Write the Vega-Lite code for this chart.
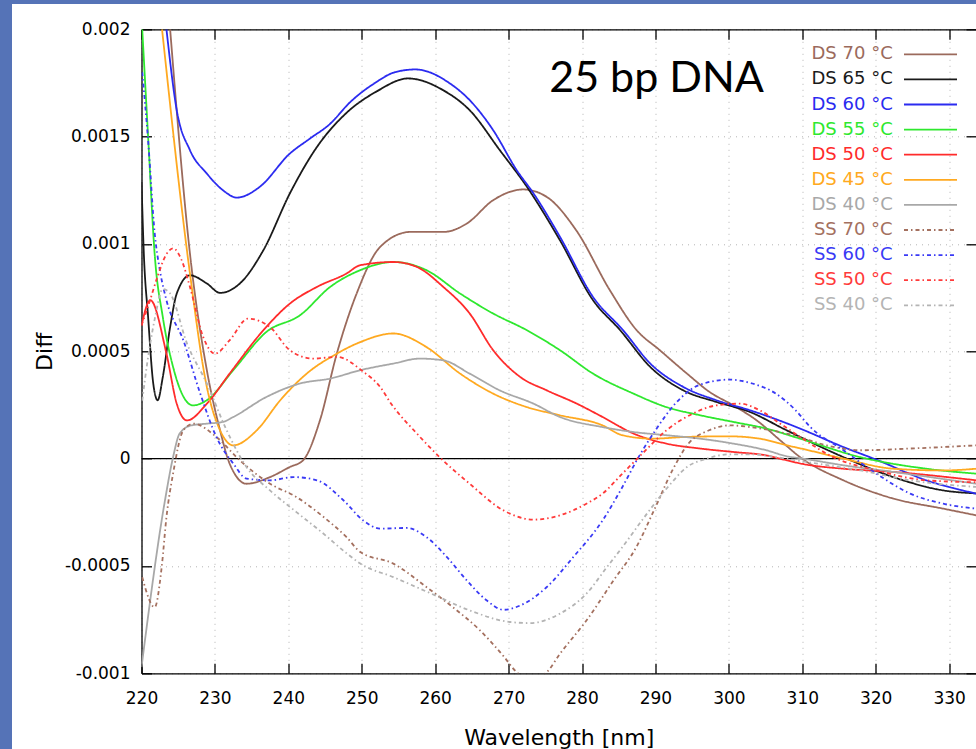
{
  "$schema": "https://vega.github.io/schema/vega-lite/v6.json",
  "width": 834.5,
  "height": 644,
  "autosize": {"type": "none"},
  "padding": {"left": 141.5, "top": 29.3, "right": 0, "bottom": 75.7},
  "background": "white",
  "config": {
    "font": "DejaVu Sans",
    "view": {"stroke": null}
  },
  "resolve": {"axis": {"x": "independent", "y": "independent"}},
  "layer": [
    {
      "description": "page frame, left strip",
      "data": {"values": [{}]},
      "mark": {"type": "rect", "color": "#5573b7", "clip": false},
      "encoding": {
        "x": {"datum": 200.727, "type": "quantitative", "scale": {"domain": [220, 333.66], "nice": false, "zero": false}, "axis": null},
        "x2": {"datum": 202.362},
        "y": {"datum": 0.0021365, "type": "quantitative", "scale": {"domain": [-0.001, 0.002], "nice": false, "zero": false}, "axis": null},
        "y2": {"datum": -0.0013526}
      }
    },
    {
      "description": "page frame, top strip",
      "data": {"values": [{}]},
      "mark": {"type": "rect", "color": "#5573b7", "clip": false},
      "encoding": {
        "x": {"datum": 200.727, "type": "quantitative", "scale": {"domain": [220, 333.66], "nice": false, "zero": false}, "axis": null},
        "x2": {"datum": 333.66},
        "y": {"datum": 0.0021365, "type": "quantitative", "scale": {"domain": [-0.001, 0.002], "nice": false, "zero": false}, "axis": null},
        "y2": {"datum": 0.0021179}
      }
    },
    {
      "description": "zero line",
      "data": {"values": [{}]},
      "mark": {"type": "rule", "color": "#000000", "strokeWidth": 1.2},
      "encoding": {
        "y": {"datum": 0, "type": "quantitative", "scale": {"domain": [-0.001, 0.002], "nice": false, "zero": false}, "axis": null}
      }
    },
    {
      "data": {
        "values": [
          {"series": "DS 70 °C", "nm": 223.9, "diff": 0.002},
          {"series": "DS 70 °C", "nm": 226.6, "diff": 0.000955},
          {"series": "DS 70 °C", "nm": 228.9, "diff": 0.000412},
          {"series": "DS 70 °C", "nm": 230.7, "diff": 0.000132},
          {"series": "DS 70 °C", "nm": 232.0, "diff": -0.000023},
          {"series": "DS 70 °C", "nm": 234.3, "diff": -0.000117},
          {"series": "DS 70 °C", "nm": 237.5, "diff": -0.000086},
          {"series": "DS 70 °C", "nm": 240.2, "diff": -0.000039},
          {"series": "DS 70 °C", "nm": 242.0, "diff": -0.000008},
          {"series": "DS 70 °C", "nm": 244.3, "diff": 0.000178},
          {"series": "DS 70 °C", "nm": 246.6, "diff": 0.000489},
          {"series": "DS 70 °C", "nm": 249.3, "diff": 0.000769},
          {"series": "DS 70 °C", "nm": 252.5, "diff": 0.000986},
          {"series": "DS 70 °C", "nm": 256.6, "diff": 0.001056},
          {"series": "DS 70 °C", "nm": 261.1, "diff": 0.001056},
          {"series": "DS 70 °C", "nm": 264.3, "diff": 0.001095},
          {"series": "DS 70 °C", "nm": 267.9, "diff": 0.001204},
          {"series": "DS 70 °C", "nm": 272.0, "diff": 0.001254},
          {"series": "DS 70 °C", "nm": 275.2, "diff": 0.001219},
          {"series": "DS 70 °C", "nm": 279.2, "diff": 0.001064},
          {"series": "DS 70 °C", "nm": 283.8, "diff": 0.000784},
          {"series": "DS 70 °C", "nm": 287.4, "diff": 0.0006},
          {"series": "DS 70 °C", "nm": 290.6, "diff": 0.000505},
          {"series": "DS 70 °C", "nm": 294.3, "diff": 0.000396},
          {"series": "DS 70 °C", "nm": 297.4, "diff": 0.00031},
          {"series": "DS 70 °C", "nm": 300.6, "diff": 0.000248},
          {"series": "DS 70 °C", "nm": 303.8, "diff": 0.000178},
          {"series": "DS 70 °C", "nm": 307.0, "diff": 0.000085},
          {"series": "DS 70 °C", "nm": 309.7, "diff": 0.000007},
          {"series": "DS 70 °C", "nm": 315.6, "diff": -0.000101},
          {"series": "DS 70 °C", "nm": 322.4, "diff": -0.000186},
          {"series": "DS 70 °C", "nm": 329.2, "diff": -0.000233},
          {"series": "DS 70 °C", "nm": 333.7, "diff": -0.000264},

          {"series": "DS 65 °C", "nm": 220.0, "diff": 0.00129},
          {"series": "DS 65 °C", "nm": 220.3, "diff": 0.00097},
          {"series": "DS 65 °C", "nm": 220.9, "diff": 0.00066},
          {"series": "DS 65 °C", "nm": 221.6, "diff": 0.00035},
          {"series": "DS 65 °C", "nm": 222.2, "diff": 0.000272},
          {"series": "DS 65 °C", "nm": 222.9, "diff": 0.00038},
          {"series": "DS 65 °C", "nm": 223.9, "diff": 0.000613},
          {"series": "DS 65 °C", "nm": 224.8, "diff": 0.000769},
          {"series": "DS 65 °C", "nm": 226.6, "diff": 0.000854},
          {"series": "DS 65 °C", "nm": 228.9, "diff": 0.000816},
          {"series": "DS 65 °C", "nm": 230.7, "diff": 0.000772},
          {"series": "DS 65 °C", "nm": 233.4, "diff": 0.000816},
          {"series": "DS 65 °C", "nm": 236.6, "diff": 0.000971},
          {"series": "DS 65 °C", "nm": 240.2, "diff": 0.001235},
          {"series": "DS 65 °C", "nm": 243.9, "diff": 0.001452},
          {"series": "DS 65 °C", "nm": 247.9, "diff": 0.00161},
          {"series": "DS 65 °C", "nm": 252.0, "diff": 0.00171},
          {"series": "DS 65 °C", "nm": 256.3, "diff": 0.001771},
          {"series": "DS 65 °C", "nm": 261.1, "diff": 0.001716},
          {"series": "DS 65 °C", "nm": 264.7, "diff": 0.001623},
          {"series": "DS 65 °C", "nm": 268.8, "diff": 0.001437},
          {"series": "DS 65 °C", "nm": 272.5, "diff": 0.001266},
          {"series": "DS 65 °C", "nm": 277.0, "diff": 0.001017},
          {"series": "DS 65 °C", "nm": 281.5, "diff": 0.000738},
          {"series": "DS 65 °C", "nm": 285.2, "diff": 0.000598},
          {"series": "DS 65 °C", "nm": 289.3, "diff": 0.000427},
          {"series": "DS 65 °C", "nm": 293.8, "diff": 0.000318},
          {"series": "DS 65 °C", "nm": 298.3, "diff": 0.000264},
          {"series": "DS 65 °C", "nm": 302.9, "diff": 0.000217},
          {"series": "DS 65 °C", "nm": 307.4, "diff": 0.00014},
          {"series": "DS 65 °C", "nm": 309.7, "diff": 0.000101},
          {"series": "DS 65 °C", "nm": 315.6, "diff": 0.000007},
          {"series": "DS 65 °C", "nm": 322.4, "diff": -0.000086},
          {"series": "DS 65 °C", "nm": 329.2, "diff": -0.000148},
          {"series": "DS 65 °C", "nm": 333.7, "diff": -0.000162},

          {"series": "DS 60 °C", "nm": 223.4, "diff": 0.002},
          {"series": "DS 60 °C", "nm": 224.8, "diff": 0.001623},
          {"series": "DS 60 °C", "nm": 226.6, "diff": 0.001437},
          {"series": "DS 60 °C", "nm": 228.9, "diff": 0.001328},
          {"series": "DS 60 °C", "nm": 231.1, "diff": 0.00125},
          {"series": "DS 60 °C", "nm": 233.0, "diff": 0.001216},
          {"series": "DS 60 °C", "nm": 236.1, "diff": 0.001266},
          {"series": "DS 60 °C", "nm": 240.2, "diff": 0.001421},
          {"series": "DS 60 °C", "nm": 242.9, "diff": 0.00149},
          {"series": "DS 60 °C", "nm": 245.7, "diff": 0.00156},
          {"series": "DS 60 °C", "nm": 248.4, "diff": 0.00166},
          {"series": "DS 60 °C", "nm": 251.8, "diff": 0.00175},
          {"series": "DS 60 °C", "nm": 254.5, "diff": 0.0018},
          {"series": "DS 60 °C", "nm": 257.3, "diff": 0.001813},
          {"series": "DS 60 °C", "nm": 262.0, "diff": 0.001748},
          {"series": "DS 60 °C", "nm": 264.7, "diff": 0.00167},
          {"series": "DS 60 °C", "nm": 267.9, "diff": 0.00153},
          {"series": "DS 60 °C", "nm": 271.1, "diff": 0.001344},
          {"series": "DS 60 °C", "nm": 273.4, "diff": 0.001235},
          {"series": "DS 60 °C", "nm": 277.0, "diff": 0.001033},
          {"series": "DS 60 °C", "nm": 281.5, "diff": 0.000753},
          {"series": "DS 60 °C", "nm": 285.6, "diff": 0.000598},
          {"series": "DS 60 °C", "nm": 289.3, "diff": 0.000443},
          {"series": "DS 60 °C", "nm": 293.8, "diff": 0.000334},
          {"series": "DS 60 °C", "nm": 298.3, "diff": 0.000272},
          {"series": "DS 60 °C", "nm": 302.9, "diff": 0.000225},
          {"series": "DS 60 °C", "nm": 307.4, "diff": 0.000171},
          {"series": "DS 60 °C", "nm": 309.7, "diff": 0.00014},
          {"series": "DS 60 °C", "nm": 315.6, "diff": 0.000054},
          {"series": "DS 60 °C", "nm": 320.1, "diff": -0.000005},
          {"series": "DS 60 °C", "nm": 326.9, "diff": -0.000101},
          {"series": "DS 60 °C", "nm": 333.7, "diff": -0.000163},

          {"series": "DS 55 °C", "nm": 220.1, "diff": 0.002},
          {"series": "DS 55 °C", "nm": 220.9, "diff": 0.0015},
          {"series": "DS 55 °C", "nm": 221.8, "diff": 0.00095},
          {"series": "DS 55 °C", "nm": 222.9, "diff": 0.00066},
          {"series": "DS 55 °C", "nm": 224.3, "diff": 0.000427},
          {"series": "DS 55 °C", "nm": 227.0, "diff": 0.000248},
          {"series": "DS 55 °C", "nm": 228.9, "diff": 0.000272},
          {"series": "DS 55 °C", "nm": 232.5, "diff": 0.000412},
          {"series": "DS 55 °C", "nm": 237.0, "diff": 0.00059},
          {"series": "DS 55 °C", "nm": 241.6, "diff": 0.000668},
          {"series": "DS 55 °C", "nm": 245.7, "diff": 0.0008},
          {"series": "DS 55 °C", "nm": 249.8, "diff": 0.000878},
          {"series": "DS 55 °C", "nm": 254.3, "diff": 0.000916},
          {"series": "DS 55 °C", "nm": 258.8, "diff": 0.000878},
          {"series": "DS 55 °C", "nm": 263.4, "diff": 0.000769},
          {"series": "DS 55 °C", "nm": 267.9, "diff": 0.000676},
          {"series": "DS 55 °C", "nm": 272.5, "diff": 0.000598},
          {"series": "DS 55 °C", "nm": 277.0, "diff": 0.000505},
          {"series": "DS 55 °C", "nm": 281.5, "diff": 0.000396},
          {"series": "DS 55 °C", "nm": 287.0, "diff": 0.000303},
          {"series": "DS 55 °C", "nm": 291.5, "diff": 0.00024},
          {"series": "DS 55 °C", "nm": 296.1, "diff": 0.000202},
          {"series": "DS 55 °C", "nm": 300.6, "diff": 0.000171},
          {"series": "DS 55 °C", "nm": 305.1, "diff": 0.00014},
          {"series": "DS 55 °C", "nm": 309.7, "diff": 0.000093},
          {"series": "DS 55 °C", "nm": 317.9, "diff": 0.000007},
          {"series": "DS 55 °C", "nm": 326.9, "diff": -0.000047},
          {"series": "DS 55 °C", "nm": 333.7, "diff": -0.00007},

          {"series": "DS 50 °C", "nm": 220.0, "diff": 0.00062},
          {"series": "DS 50 °C", "nm": 221.2, "diff": 0.000738},
          {"series": "DS 50 °C", "nm": 223.4, "diff": 0.000489},
          {"series": "DS 50 °C", "nm": 224.8, "diff": 0.000256},
          {"series": "DS 50 °C", "nm": 226.2, "diff": 0.000178},
          {"series": "DS 50 °C", "nm": 228.9, "diff": 0.000256},
          {"series": "DS 50 °C", "nm": 232.0, "diff": 0.000396},
          {"series": "DS 50 °C", "nm": 236.6, "diff": 0.000598},
          {"series": "DS 50 °C", "nm": 240.2, "diff": 0.000722},
          {"series": "DS 50 °C", "nm": 243.9, "diff": 0.0008},
          {"series": "DS 50 °C", "nm": 247.9, "diff": 0.000862},
          {"series": "DS 50 °C", "nm": 249.8, "diff": 0.000901},
          {"series": "DS 50 °C", "nm": 254.3, "diff": 0.000916},
          {"series": "DS 50 °C", "nm": 257.5, "diff": 0.000893},
          {"series": "DS 50 °C", "nm": 261.1, "diff": 0.0008},
          {"series": "DS 50 °C", "nm": 264.7, "diff": 0.000676},
          {"series": "DS 50 °C", "nm": 267.9, "diff": 0.000505},
          {"series": "DS 50 °C", "nm": 271.6, "diff": 0.00038},
          {"series": "DS 50 °C", "nm": 275.2, "diff": 0.000318},
          {"series": "DS 50 °C", "nm": 279.3, "diff": 0.000256},
          {"series": "DS 50 °C", "nm": 282.8, "diff": 0.000194},
          {"series": "DS 50 °C", "nm": 287.0, "diff": 0.000117},
          {"series": "DS 50 °C", "nm": 291.5, "diff": 0.00007},
          {"series": "DS 50 °C", "nm": 296.1, "diff": 0.000047},
          {"series": "DS 50 °C", "nm": 300.6, "diff": 0.000031},
          {"series": "DS 50 °C", "nm": 305.1, "diff": 0.000015},
          {"series": "DS 50 °C", "nm": 307.9, "diff": -0.000008},
          {"series": "DS 50 °C", "nm": 310.1, "diff": -0.000025},
          {"series": "DS 50 °C", "nm": 315.6, "diff": -0.000047},
          {"series": "DS 50 °C", "nm": 322.4, "diff": -0.000062},
          {"series": "DS 50 °C", "nm": 333.7, "diff": -0.000101},

          {"series": "DS 45 °C", "nm": 222.8, "diff": 0.002},
          {"series": "DS 45 °C", "nm": 226.6, "diff": 0.000862},
          {"series": "DS 45 °C", "nm": 228.9, "diff": 0.000334},
          {"series": "DS 45 °C", "nm": 230.7, "diff": 0.000132},
          {"series": "DS 45 °C", "nm": 232.5, "diff": 0.000062},
          {"series": "DS 45 °C", "nm": 235.7, "diff": 0.000132},
          {"series": "DS 45 °C", "nm": 238.9, "diff": 0.000272},
          {"series": "DS 45 °C", "nm": 242.5, "diff": 0.000396},
          {"series": "DS 45 °C", "nm": 246.6, "diff": 0.000489},
          {"series": "DS 45 °C", "nm": 249.8, "diff": 0.000543},
          {"series": "DS 45 °C", "nm": 254.3, "diff": 0.000583},
          {"series": "DS 45 °C", "nm": 258.8, "diff": 0.00052},
          {"series": "DS 45 °C", "nm": 263.4, "diff": 0.000396},
          {"series": "DS 45 °C", "nm": 267.9, "diff": 0.000303},
          {"series": "DS 45 °C", "nm": 272.5, "diff": 0.00024},
          {"series": "DS 45 °C", "nm": 277.0, "diff": 0.000202},
          {"series": "DS 45 °C", "nm": 282.8, "diff": 0.000155},
          {"series": "DS 45 °C", "nm": 285.5, "diff": 0.000109},
          {"series": "DS 45 °C", "nm": 289.6, "diff": 0.000093},
          {"series": "DS 45 °C", "nm": 294.1, "diff": 0.000101},
          {"series": "DS 45 °C", "nm": 300.0, "diff": 0.000104},
          {"series": "DS 45 °C", "nm": 304.2, "diff": 0.000093},
          {"series": "DS 45 °C", "nm": 307.9, "diff": 0.000062},
          {"series": "DS 45 °C", "nm": 310.1, "diff": 0.000045},
          {"series": "DS 45 °C", "nm": 315.6, "diff": 0.0},
          {"series": "DS 45 °C", "nm": 322.4, "diff": -0.000047},
          {"series": "DS 45 °C", "nm": 329.2, "diff": -0.000055},
          {"series": "DS 45 °C", "nm": 333.7, "diff": -0.000047},

          {"series": "DS 40 °C", "nm": 220.0, "diff": -0.000971},
          {"series": "DS 40 °C", "nm": 223.2, "diff": -0.000194},
          {"series": "DS 40 °C", "nm": 224.3, "diff": 0.000007},
          {"series": "DS 40 °C", "nm": 225.2, "diff": 0.000117},
          {"series": "DS 40 °C", "nm": 226.8, "diff": 0.000155},
          {"series": "DS 40 °C", "nm": 228.9, "diff": 0.000163},
          {"series": "DS 40 °C", "nm": 231.1, "diff": 0.000171},
          {"series": "DS 40 °C", "nm": 232.5, "diff": 0.000194},
          {"series": "DS 40 °C", "nm": 237.0, "diff": 0.000287},
          {"series": "DS 40 °C", "nm": 241.6, "diff": 0.00035},
          {"series": "DS 40 °C", "nm": 245.7, "diff": 0.000373},
          {"series": "DS 40 °C", "nm": 249.8, "diff": 0.000412},
          {"series": "DS 40 °C", "nm": 254.3, "diff": 0.000443},
          {"series": "DS 40 °C", "nm": 257.9, "diff": 0.000466},
          {"series": "DS 40 °C", "nm": 261.1, "diff": 0.000458},
          {"series": "DS 40 °C", "nm": 264.7, "diff": 0.000396},
          {"series": "DS 40 °C", "nm": 268.8, "diff": 0.000318},
          {"series": "DS 40 °C", "nm": 273.4, "diff": 0.000256},
          {"series": "DS 40 °C", "nm": 277.0, "diff": 0.000194},
          {"series": "DS 40 °C", "nm": 282.8, "diff": 0.000147},
          {"series": "DS 40 °C", "nm": 287.0, "diff": 0.000124},
          {"series": "DS 40 °C", "nm": 291.5, "diff": 0.000109},
          {"series": "DS 40 °C", "nm": 296.1, "diff": 0.000093},
          {"series": "DS 40 °C", "nm": 300.6, "diff": 0.00007},
          {"series": "DS 40 °C", "nm": 305.1, "diff": 0.000039},
          {"series": "DS 40 °C", "nm": 307.9, "diff": 0.000011},
          {"series": "DS 40 °C", "nm": 310.1, "diff": 0.0},
          {"series": "DS 40 °C", "nm": 315.6, "diff": -0.000031},
          {"series": "DS 40 °C", "nm": 322.4, "diff": -0.000062},
          {"series": "DS 40 °C", "nm": 333.7, "diff": -0.000117},

          {"series": "SS 70 °C", "nm": 220.1, "diff": -0.000552},
          {"series": "SS 70 °C", "nm": 221.8, "diff": -0.000692},
          {"series": "SS 70 °C", "nm": 222.75, "diff": -0.000505},
          {"series": "SS 70 °C", "nm": 223.4, "diff": -0.000272},
          {"series": "SS 70 °C", "nm": 224.3, "diff": -0.00007},
          {"series": "SS 70 °C", "nm": 225.7, "diff": 0.000132},
          {"series": "SS 70 °C", "nm": 227.1, "diff": 0.000163},
          {"series": "SS 70 °C", "nm": 230.2, "diff": 0.000101},
          {"series": "SS 70 °C", "nm": 233.4, "diff": -0.000008},
          {"series": "SS 70 °C", "nm": 237.5, "diff": -0.000117},
          {"series": "SS 70 °C", "nm": 241.1, "diff": -0.000179},
          {"series": "SS 70 °C", "nm": 244.8, "diff": -0.000272},
          {"series": "SS 70 °C", "nm": 247.9, "diff": -0.000365},
          {"series": "SS 70 °C", "nm": 249.8, "diff": -0.000435},
          {"series": "SS 70 °C", "nm": 254.3, "diff": -0.000489},
          {"series": "SS 70 °C", "nm": 258.8, "diff": -0.000598},
          {"series": "SS 70 °C", "nm": 262.4, "diff": -0.000692},
          {"series": "SS 70 °C", "nm": 266.1, "diff": -0.0008},
          {"series": "SS 70 °C", "nm": 269.3, "diff": -0.00092},
          {"series": "SS 70 °C", "nm": 271.1, "diff": -0.000995},
          {"series": "SS 70 °C", "nm": 273.2, "diff": -0.00103},
          {"series": "SS 70 °C", "nm": 275.2, "diff": -0.000995},
          {"series": "SS 70 °C", "nm": 277.0, "diff": -0.000909},
          {"series": "SS 70 °C", "nm": 280.6, "diff": -0.000754},
          {"series": "SS 70 °C", "nm": 284.3, "diff": -0.000567},
          {"series": "SS 70 °C", "nm": 287.4, "diff": -0.000412},
          {"series": "SS 70 °C", "nm": 290.0, "diff": -0.000226},
          {"series": "SS 70 °C", "nm": 292.3, "diff": -0.000055},
          {"series": "SS 70 °C", "nm": 294.5, "diff": 0.00007},
          {"series": "SS 70 °C", "nm": 297.3, "diff": 0.000132},
          {"series": "SS 70 °C", "nm": 300.2, "diff": 0.000155},
          {"series": "SS 70 °C", "nm": 302.9, "diff": 0.000147},
          {"series": "SS 70 °C", "nm": 308.8, "diff": 0.000109},
          {"series": "SS 70 °C", "nm": 313.3, "diff": 0.000062},
          {"series": "SS 70 °C", "nm": 317.9, "diff": 0.000039},
          {"series": "SS 70 °C", "nm": 324.7, "diff": 0.000047},
          {"series": "SS 70 °C", "nm": 333.7, "diff": 0.000062},

          {"series": "SS 60 °C", "nm": 220.1, "diff": 0.0018},
          {"series": "SS 60 °C", "nm": 220.9, "diff": 0.001483},
          {"series": "SS 60 °C", "nm": 221.8, "diff": 0.001049},
          {"series": "SS 60 °C", "nm": 222.5, "diff": 0.000878},
          {"series": "SS 60 °C", "nm": 223.4, "diff": 0.000738},
          {"series": "SS 60 °C", "nm": 225.7, "diff": 0.000551},
          {"series": "SS 60 °C", "nm": 228.0, "diff": 0.000303},
          {"series": "SS 60 °C", "nm": 230.2, "diff": 0.000101},
          {"series": "SS 60 °C", "nm": 232.5, "diff": -0.000023},
          {"series": "SS 60 °C", "nm": 234.3, "diff": -0.000093},
          {"series": "SS 60 °C", "nm": 237.5, "diff": -0.000101},
          {"series": "SS 60 °C", "nm": 240.7, "diff": -0.000086},
          {"series": "SS 60 °C", "nm": 243.9, "diff": -0.000101},
          {"series": "SS 60 °C", "nm": 247.5, "diff": -0.000194},
          {"series": "SS 60 °C", "nm": 250.2, "diff": -0.000288},
          {"series": "SS 60 °C", "nm": 252.5, "diff": -0.000326},
          {"series": "SS 60 °C", "nm": 256.1, "diff": -0.000323},
          {"series": "SS 60 °C", "nm": 258.8, "diff": -0.000365},
          {"series": "SS 60 °C", "nm": 261.6, "diff": -0.000459},
          {"series": "SS 60 °C", "nm": 264.3, "diff": -0.000567},
          {"series": "SS 60 °C", "nm": 267.0, "diff": -0.00066},
          {"series": "SS 60 °C", "nm": 269.3, "diff": -0.000704},
          {"series": "SS 60 °C", "nm": 271.6, "diff": -0.000684},
          {"series": "SS 60 °C", "nm": 275.2, "diff": -0.000598},
          {"series": "SS 60 °C", "nm": 278.8, "diff": -0.000459},
          {"series": "SS 60 °C", "nm": 282.8, "diff": -0.000288},
          {"series": "SS 60 °C", "nm": 285.5, "diff": -0.000132},
          {"series": "SS 60 °C", "nm": 287.7, "diff": 0.000007},
          {"series": "SS 60 °C", "nm": 290.0, "diff": 0.000132},
          {"series": "SS 60 °C", "nm": 292.7, "diff": 0.000256},
          {"series": "SS 60 °C", "nm": 295.9, "diff": 0.000342},
          {"series": "SS 60 °C", "nm": 300.0, "diff": 0.000368},
          {"series": "SS 60 °C", "nm": 303.2, "diff": 0.00035},
          {"series": "SS 60 °C", "nm": 306.4, "diff": 0.000303},
          {"series": "SS 60 °C", "nm": 309.1, "diff": 0.000225},
          {"series": "SS 60 °C", "nm": 311.1, "diff": 0.000147},
          {"series": "SS 60 °C", "nm": 315.6, "diff": 0.000039},
          {"series": "SS 60 °C", "nm": 320.1, "diff": -0.00007},
          {"series": "SS 60 °C", "nm": 324.7, "diff": -0.000163},
          {"series": "SS 60 °C", "nm": 329.2, "diff": -0.00021},
          {"series": "SS 60 °C", "nm": 333.7, "diff": -0.000233},

          {"series": "SS 50 °C", "nm": 220.0, "diff": 0.00062},
          {"series": "SS 50 °C", "nm": 221.0, "diff": 0.00072},
          {"series": "SS 50 °C", "nm": 222.2, "diff": 0.00085},
          {"series": "SS 50 °C", "nm": 223.2, "diff": 0.00094},
          {"series": "SS 50 °C", "nm": 224.3, "diff": 0.00098},
          {"series": "SS 50 °C", "nm": 225.4, "diff": 0.00093},
          {"series": "SS 50 °C", "nm": 226.6, "diff": 0.0008},
          {"series": "SS 50 °C", "nm": 228.4, "diff": 0.000567},
          {"series": "SS 50 °C", "nm": 230.0, "diff": 0.000489},
          {"series": "SS 50 °C", "nm": 232.0, "diff": 0.000551},
          {"series": "SS 50 °C", "nm": 234.5, "diff": 0.000652},
          {"series": "SS 50 °C", "nm": 237.5, "diff": 0.000613},
          {"series": "SS 50 °C", "nm": 240.2, "diff": 0.000505},
          {"series": "SS 50 °C", "nm": 243.4, "diff": 0.000466},
          {"series": "SS 50 °C", "nm": 246.6, "diff": 0.000474},
          {"series": "SS 50 °C", "nm": 250.2, "diff": 0.000405},
          {"series": "SS 50 °C", "nm": 252.5, "diff": 0.000334},
          {"series": "SS 50 °C", "nm": 254.0, "diff": 0.000256},
          {"series": "SS 50 °C", "nm": 257.5, "diff": 0.000117},
          {"series": "SS 50 °C", "nm": 260.6, "diff": 0.000007},
          {"series": "SS 50 °C", "nm": 264.7, "diff": -0.000117},
          {"series": "SS 50 °C", "nm": 269.3, "diff": -0.000241},
          {"series": "SS 50 °C", "nm": 273.4, "diff": -0.000284},
          {"series": "SS 50 °C", "nm": 277.0, "diff": -0.000264},
          {"series": "SS 50 °C", "nm": 280.6, "diff": -0.00021},
          {"series": "SS 50 °C", "nm": 282.8, "diff": -0.000163},
          {"series": "SS 50 °C", "nm": 285.5, "diff": -0.00007},
          {"series": "SS 50 °C", "nm": 288.2, "diff": 0.000023},
          {"series": "SS 50 °C", "nm": 291.5, "diff": 0.000132},
          {"series": "SS 50 °C", "nm": 295.1, "diff": 0.00021},
          {"series": "SS 50 °C", "nm": 298.3, "diff": 0.000248},
          {"series": "SS 50 °C", "nm": 301.5, "diff": 0.000256},
          {"series": "SS 50 °C", "nm": 304.2, "diff": 0.000225},
          {"series": "SS 50 °C", "nm": 307.0, "diff": 0.000163},
          {"series": "SS 50 °C", "nm": 309.7, "diff": 0.000101},
          {"series": "SS 50 °C", "nm": 314.2, "diff": 0.000007},
          {"series": "SS 50 °C", "nm": 320.1, "diff": -0.000055},
          {"series": "SS 50 °C", "nm": 326.9, "diff": -0.000101},
          {"series": "SS 50 °C", "nm": 333.7, "diff": -0.00011},

          {"series": "SS 40 °C", "nm": 220.1, "diff": 0.00027},
          {"series": "SS 40 °C", "nm": 220.8, "diff": 0.00045},
          {"series": "SS 40 °C", "nm": 221.8, "diff": 0.00065},
          {"series": "SS 40 °C", "nm": 222.9, "diff": 0.00079},
          {"series": "SS 40 °C", "nm": 223.9, "diff": 0.000769},
          {"series": "SS 40 °C", "nm": 226.2, "diff": 0.000536},
          {"series": "SS 40 °C", "nm": 228.9, "diff": 0.00035},
          {"series": "SS 40 °C", "nm": 231.6, "diff": 0.000132},
          {"series": "SS 40 °C", "nm": 234.3, "diff": -0.000039},
          {"series": "SS 40 °C", "nm": 237.5, "diff": -0.000148},
          {"series": "SS 40 °C", "nm": 241.1, "diff": -0.000249},
          {"series": "SS 40 °C", "nm": 244.8, "diff": -0.00035},
          {"series": "SS 40 °C", "nm": 247.9, "diff": -0.00044},
          {"series": "SS 40 °C", "nm": 249.8, "diff": -0.000489},
          {"series": "SS 40 °C", "nm": 254.3, "diff": -0.000552},
          {"series": "SS 40 °C", "nm": 260.0, "diff": -0.000637},
          {"series": "SS 40 °C", "nm": 264.7, "diff": -0.000707},
          {"series": "SS 40 °C", "nm": 270.2, "diff": -0.000761},
          {"series": "SS 40 °C", "nm": 272.9, "diff": -0.000766},
          {"series": "SS 40 °C", "nm": 277.0, "diff": -0.000722},
          {"series": "SS 40 °C", "nm": 280.6, "diff": -0.000629},
          {"series": "SS 40 °C", "nm": 283.4, "diff": -0.000505},
          {"series": "SS 40 °C", "nm": 285.5, "diff": -0.000412},
          {"series": "SS 40 °C", "nm": 288.5, "diff": -0.000272},
          {"series": "SS 40 °C", "nm": 291.7, "diff": -0.000132},
          {"series": "SS 40 °C", "nm": 294.3, "diff": -0.000039},
          {"series": "SS 40 °C", "nm": 297.0, "diff": 0.0},
          {"series": "SS 40 °C", "nm": 300.0, "diff": 0.00002},
          {"series": "SS 40 °C", "nm": 303.2, "diff": 0.00002},
          {"series": "SS 40 °C", "nm": 306.4, "diff": 0.000007},
          {"series": "SS 40 °C", "nm": 310.0, "diff": -0.000012},
          {"series": "SS 40 °C", "nm": 313.3, "diff": -0.00003},
          {"series": "SS 40 °C", "nm": 317.9, "diff": -0.000055},
          {"series": "SS 40 °C", "nm": 324.7, "diff": -0.000101},
          {"series": "SS 40 °C", "nm": 333.7, "diff": -0.000132}
        ]
      },
      "mark": {"type": "line", "interpolate": "monotone", "strokeWidth": 1.8, "clip": true},
      "encoding": {
        "x": {
          "field": "nm", "type": "quantitative",
          "scale": {"domain": [220, 333.66], "nice": false, "zero": false},
          "axis": {
            "orient": "bottom",
            "values": [220, 230, 240, 250, 260, 270, 280, 290, 300, 310, 320, 330],
            "title": "Wavelength [nm]",
            "grid": true, "gridColor": "#b4b4b4", "gridDash": [1, 5], "gridWidth": 1,
            "domain": true, "domainColor": "#000000", "domainWidth": 1.3,
            "ticks": true, "tickSize": -10, "tickColor": "#000000", "tickWidth": 1.3,
            "labelFontSize": 17, "labelColor": "#000000", "labelPadding": 27,
            "labelFlush": false, "labelOverlap": false,
            "titleFontSize": 22, "titleFontWeight": "normal", "titleColor": "#000000",
            "titleY": 71, "titleBaseline": "alphabetic"
          }
        },
        "y": {
          "field": "diff", "type": "quantitative",
          "scale": {"domain": [-0.001, 0.002], "nice": false, "zero": false},
          "axis": {
            "orient": "left",
            "values": [-0.001, -0.0005, 0, 0.0005, 0.001, 0.0015, 0.002],
            "labelExpr": "toString(datum.value)",
            "title": "Diff",
            "grid": true, "gridColor": "#b4b4b4", "gridDash": [1, 5], "gridWidth": 1,
            "domain": true, "domainColor": "#000000", "domainWidth": 1.3,
            "ticks": true, "tickSize": -10, "tickColor": "#000000", "tickWidth": 1.3,
            "labelFontSize": 17, "labelColor": "#000000", "labelPadding": 21.5,
            "labelFlush": false, "labelOverlap": false,
            "titleFontSize": 22, "titleFontWeight": "normal", "titleColor": "#000000",
            "titleAngle": -90, "titleX": -90, "titleY": 322,
            "titleAlign": "center", "titleBaseline": "alphabetic"
          }
        },
        "color": {
          "field": "series", "type": "nominal",
          "scale": {
            "domain": ["DS 70 °C", "DS 65 °C", "DS 60 °C", "DS 55 °C", "DS 50 °C", "DS 45 °C", "DS 40 °C", "SS 70 °C", "SS 60 °C", "SS 50 °C", "SS 40 °C"],
            "range": ["#9b6a5c", "#1a1a1a", "#2b2bf0", "#2ee82e", "#ff2b2b", "#ffa920", "#a8a8a8", "#a4705f", "#3a3af5", "#ff3a3a", "#b4b4b4"]
          },
          "legend": {
            "orient": "none", "legendX": 669.2, "legendY": 9.5,
            "title": null, "padding": 0,
            "symbolType": "M-1.816,0H1.816", "symbolSize": 852, "symbolStrokeWidth": 1.8,
            "symbolOffset": 104.3, "labelOffset": -53.3,
            "labelAlign": "right", "labelBaseline": "middle",
            "labelFontSize": 18, "labelLimit": 200,
            "labelColor": {"expr": "scale('color', datum.value)"},
            "rowPadding": 0.1
          }
        },
        "strokeDash": {
          "field": "series", "type": "nominal",
          "scale": {
            "domain": ["DS 70 °C", "DS 65 °C", "DS 60 °C", "DS 55 °C", "DS 50 °C", "DS 45 °C", "DS 40 °C", "SS 70 °C", "SS 60 °C", "SS 50 °C", "SS 40 °C"],
            "range": [[1, 0], [1, 0], [1, 0], [1, 0], [1, 0], [1, 0], [1, 0], [4, 3, 1.5, 3], [4, 3, 1.5, 3], [4, 3, 1.5, 3], [4, 3, 1.5, 3]]
          },
          "legend": {
            "orient": "none", "legendX": 669.2, "legendY": 9.5,
            "title": null, "padding": 0,
            "symbolType": "M-1.816,0H1.816", "symbolSize": 852, "symbolStrokeWidth": 1.8,
            "symbolOffset": 104.3, "labelOffset": -53.3,
            "labelAlign": "right", "labelBaseline": "middle",
            "labelFontSize": 18, "labelLimit": 200,
            "labelColor": {"expr": "scale('color', datum.value)"},
            "rowPadding": 0.1
          }
        }
      }
    },
    {
      "data": {"values": [{}]},
      "mark": {"type": "text", "text": "25 bp DNA", "font": "Lato", "fontSize": 43, "align": "left", "baseline": "alphabetic", "color": "#000000"},
      "encoding": {
        "x": {
          "datum": 275.53, "type": "quantitative",
          "scale": {"domain": [220, 333.66], "nice": false, "zero": false},
          "axis": {
            "orient": "top", "title": null, "labels": false, "grid": false,
            "values": [220, 230, 240, 250, 260, 270, 280, 290, 300, 310, 320, 330],
            "domain": true, "domainColor": "#000000", "domainWidth": 1.3,
            "ticks": true, "tickSize": -10, "tickColor": "#000000", "tickWidth": 1.3
          }
        },
        "y": {
          "datum": 0.0017093, "type": "quantitative",
          "scale": {"domain": [-0.001, 0.002], "nice": false, "zero": false},
          "axis": {
            "orient": "right", "title": null, "labels": false, "grid": false,
            "values": [-0.001, -0.0005, 0, 0.0005, 0.001, 0.0015, 0.002],
            "domain": false,
            "ticks": true, "tickSize": -10, "tickColor": "#000000", "tickWidth": 1.3
          }
        }
      }
    }
  ]
}
